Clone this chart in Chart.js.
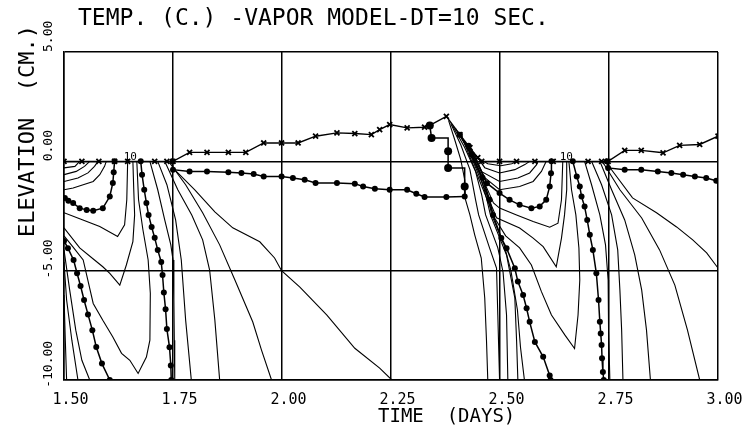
<!DOCTYPE html>
<html>
<head>
<meta charset="utf-8">
<title>TEMP. (C.) -VAPOR MODEL-DT=10 SEC.</title>
<script src="https://cdn.jsdelivr.net/npm/chart.js@4.4.1/dist/chart.umd.min.js"></script>
<style>
  html, body { margin: 0; padding: 0; background: #fff; }
  #wrap { position: relative; width: 755px; height: 430px; }
</style>
</head>
<body>
<div id="wrap"><canvas id="chart"></canvas></div>
<script>
// ---- texts ----
const titleText = "TEMP. (C.) -VAPOR MODEL-DT=10 SEC.";
const xTitle = "TIME  (DAYS)";
const yTitle = "ELEVATION  (CM.)";
const xTickValues = [1.50, 1.75, 2.00, 2.25, 2.50, 2.75, 3.00];
const xTickLabels = ["1.50", "1.75", "2.00", "2.25", "2.50", "2.75", "3.00"];
const yTickValues = [5, 0, -5, -10];
const yTickLabels = ["5.00", "0.00", "-5.00", "-10.00"];
const contourLabelTimes = [1.652, 2.652];
const contourLabelText = "10";

// ---- series: [time (days), elevation (cm)] ----
// snow surface (x markers)
const surfaceLine = [
  [1.500,0],[1.541,0],[1.580,0],[1.616,0],[1.646,0],[1.708,0],[1.736,0],[1.750,0],
  [1.788,0.41],[1.828,0.41],[1.877,0.41],[1.917,0.41],[1.958,0.84],[1.999,0.84],[2.037,0.84],
  [2.077,1.15],[2.126,1.30],[2.167,1.27],[2.205,1.22],[2.224,1.45],[2.247,1.68],[2.287,1.53],
  [2.327,1.56],[2.339,1.64],[2.377,2.06],[2.408,1.22],[2.431,0.63],[2.449,0.17],[2.458,0],
  [2.499,0],[2.538,0],[2.580,0],[2.622,0],[2.702,0],[2.733,0],[2.748,0],
  [2.786,0.50],[2.824,0.50],[2.874,0.39],[2.912,0.73],[2.958,0.77],[3.000,1.15]
];
// lower dotted line under the new snow
const meltLine = [
  [1.749,0],[1.750,-0.38],[1.788,-0.46],[1.828,-0.46],[1.877,-0.50],[1.907,-0.53],[1.935,-0.58],
  [1.958,-0.69],[1.999,-0.69],[2.025,-0.76],[2.052,-0.84],[2.077,-0.99],[2.126,-0.99],[2.167,-1.02],
  [2.186,-1.15],[2.213,-1.25],[2.247,-1.30],[2.287,-1.30],[2.308,-1.48],[2.327,-1.63],[2.377,-1.63],
  [2.419,-1.61]
];
const meltLineLate = [
  [2.745,0],[2.748,-0.30],[2.786,-0.38],[2.824,-0.38],[2.862,-0.46],[2.893,-0.53],[2.920,-0.61],
  [2.947,-0.69],[2.973,-0.76],[2.996,-0.89]
];
const stepLine = [
  [2.339,1.64],[2.343,1.07],[2.381,1.07],[2.381,0.46],[2.381,-0.30],[2.419,-0.30],[2.419,-1.15],[2.419,-1.61]
];
const stepDots = [4, 4, 0, 4, 4, 0, 4, 0];

// first day: closed contours under the surface
const dayOneU1 = [[1.500,-0.30],[1.525,-0.23],[1.536,0]];
const dayOneU2 = [[1.500,-0.61],[1.528,-0.46],[1.547,-0.23],[1.559,0]];
const dayOneU3 = [[1.500,-0.92],[1.532,-0.76],[1.555,-0.53],[1.570,-0.23],[1.578,0]];
const dayOneU4 = [[1.500,-1.30],[1.521,-1.22],[1.544,-1.07],[1.567,-0.92],[1.582,-0.61],[1.593,-0.23],[1.597,0]];
const dayOneUDot = [[1.502,-1.68],[1.510,-1.80],[1.521,-1.91],[1.536,-2.14],[1.552,-2.22],[1.567,-2.26],
  [1.589,-2.14],[1.605,-1.61],[1.612,-0.99],[1.614,-0.50],[1.616,0]];
const dayOneU6 = [[1.500,-2.35],[1.536,-2.63],[1.582,-2.98],[1.623,-3.44],[1.639,-2.90],[1.644,-1.76],[1.646,0]];
const dayOneSmallV = [[1.500,-3.04],[1.536,-3.96],[1.570,-4.51],[1.589,-4.82],[1.605,-5.12],[1.628,-5.66],
  [1.643,-4.74],[1.658,-3.67],[1.662,-2.45],[1.660,-1.30],[1.658,0]];
const dayOneBigV = [[1.500,-3.41],[1.520,-3.90],[1.544,-4.51],[1.567,-6.50],[1.589,-7.27],[1.612,-8.03],
  [1.632,-8.78],[1.651,-9.10],[1.670,-9.70],[1.689,-8.95],[1.697,-8.18],[1.698,-6.03],[1.693,-4.51],
  [1.681,-3.13],[1.671,-1.76],[1.667,0]];
const dayOneEdgeDot = [[1.500,-3.64],[1.509,-3.97],[1.522,-4.51],[1.530,-5.12],[1.538,-5.70],[1.546,-6.34],
  [1.555,-7.00],[1.565,-7.72],[1.574,-8.49],[1.587,-9.25],[1.605,-10]];
const dayOneEdge1 = [[1.500,-4.05],[1.513,-5.88],[1.527,-7.72],[1.541,-9.10],[1.559,-10]];
const dayOneEdge2 = [[1.500,-4.60],[1.506,-6.34],[1.518,-8.18],[1.532,-10]];
const dayOneEdge3 = [[1.500,-6.11],[1.503,-8.18],[1.506,-10]];
// first day: descending contours
const dayOneFallDot = [[1.676,0],[1.679,-0.61],[1.684,-1.30],[1.689,-1.90],[1.694,-2.45],[1.701,-3.00],
  [1.708,-3.50],[1.715,-4.05],[1.723,-4.60],[1.726,-5.20],[1.729,-6.00],[1.733,-6.77],[1.736,-7.67],
  [1.742,-8.50],[1.745,-9.34],[1.746,-10]];
const dayOneFall1 = [[1.697,0],[1.715,-1.30],[1.731,-2.68],[1.745,-3.82],[1.750,-4.51],[1.752,-6.34],[1.753,-8.18],[1.754,-10]];
const dayOneFall2 = [[1.715,0],[1.736,-1.07],[1.756,-2.68],[1.769,-4.51],[1.779,-7.26],[1.792,-10]];
const dayOneFall3 = [[1.731,0],[1.761,-1.30],[1.793,-2.45],[1.818,-3.59],[1.834,-4.97],[1.846,-7.26],[1.857,-10]];
const dayOneFall4 = [[1.742,-0.06],[1.779,-1.07],[1.818,-2.35],[1.857,-3.82],[1.892,-5.43],[1.933,-7.35],[1.953,-8.63],[1.976,-10]];
const dayOneFall5 = [[1.749,-0.29],[1.800,-1.30],[1.846,-2.31],[1.887,-3.04],[1.949,-3.68],[1.983,-4.42],
  [1.999,-5.00],[2.041,-5.75],[2.103,-7.03],[2.167,-8.55],[2.224,-9.46],[2.252,-10]];

// steep bundle after the peak
const bundle1 = [[2.382,1.87],[2.396,1.00],[2.410,0.08],[2.419,-0.84],[2.421,-1.76],[2.431,-2.45],
  [2.442,-3.36],[2.457,-4.42],[2.465,-6.25],[2.469,-8.18],[2.472,-10]];
const bundle2 = [[2.387,1.73],[2.410,0.76],[2.431,-0.38],[2.444,-1.76],[2.451,-2.45],[2.476,-3.96],
  [2.492,-4.88],[2.495,-7.03],[2.499,-10]];
const bundle3 = [[2.391,1.64],[2.419,0.63],[2.444,-0.47],[2.458,-1.53],[2.467,-2.45],[2.495,-3.96],
  [2.507,-5.06],[2.515,-7.03],[2.518,-10]];
const bundle4 = [[2.398,1.50],[2.430,0.44],[2.455,-0.66],[2.469,-1.67],[2.478,-2.45],[2.515,-4.28],
  [2.534,-6.25],[2.538,-8.18],[2.541,-10]];
const bundle5 = [[2.403,1.36],[2.433,0.38],[2.458,-0.70],[2.473,-1.72],[2.481,-2.45],[2.509,-3.80],
  [2.525,-5.00],[2.540,-6.80],[2.547,-8.50],[2.556,-10]];
const bundleDot = [[2.408,1.22],[2.435,0.31],[2.460,-0.75],[2.476,-1.76],[2.484,-2.45],[2.503,-3.51],
  [2.515,-3.97],[2.534,-4.89],[2.541,-5.50],[2.553,-6.11],[2.561,-6.72],[2.568,-7.34],[2.580,-8.26],
  [2.599,-8.94],[2.614,-9.79],[2.616,-10]];

// second day: closed contours under the surface
const dayTwoU1 = [[2.451,0.13],[2.472,-0.11],[2.502,-0.20],[2.527,-0.11],[2.538,0]];
const dayTwoU2 = [[2.445,0.27],[2.465,-0.29],[2.499,-0.53],[2.534,-0.38],[2.557,-0.15],[2.568,0]];
const dayTwoU3 = [[2.440,0.40],[2.458,-0.47],[2.499,-0.92],[2.541,-0.76],[2.568,-0.53],[2.584,-0.15],[2.587,0]];
const dayTwoU4 = [[2.434,0.55],[2.465,-0.75],[2.499,-1.30],[2.545,-1.15],[2.576,-0.92],[2.595,-0.46],[2.606,0]];
const dayTwoUDot = [[2.428,0.71],[2.470,-1.00],[2.499,-1.45],[2.522,-1.76],[2.545,-1.99],[2.572,-2.14],
  [2.591,-2.06],[2.606,-1.76],[2.614,-1.15],[2.617,-0.55],[2.618,0]];
const dayTwoU6 = [[2.423,0.84],[2.476,-1.50],[2.485,-1.90],[2.499,-2.14],[2.538,-2.45],[2.576,-2.75],
  [2.614,-3.01],[2.633,-2.83],[2.641,-1.76],[2.644,0]];
const dayTwoSmallV = [[2.418,0.97],[2.482,-2.10],[2.492,-2.58],[2.545,-3.05],[2.576,-3.51],[2.599,-3.90],
  [2.629,-4.82],[2.641,-3.51],[2.648,-2.45],[2.653,-1.30],[2.653,0]];
const dayTwoBigV = [[2.413,1.09],[2.488,-2.60],[2.513,-3.41],[2.545,-3.96],[2.572,-4.74],[2.595,-5.96],
  [2.618,-7.03],[2.649,-7.95],[2.671,-8.56],[2.679,-7.03],[2.683,-5.43],[2.681,-3.96],[2.674,-2.45],
  [2.664,-1.30],[2.658,0]];
// second day: descending contours
const dayTwoFallDot = [[2.667,0],[2.676,-0.69],[2.683,-1.15],[2.687,-1.61],[2.694,-2.07],[2.700,-2.68],
  [2.706,-3.36],[2.713,-4.05],[2.721,-5.12],[2.726,-6.34],[2.729,-7.34],[2.731,-7.87],[2.733,-8.40],
  [2.734,-9.01],[2.736,-9.63],[2.738,-10]];
const dayTwoFall1 = [[2.694,0],[2.710,-1.07],[2.729,-2.45],[2.742,-3.82],[2.748,-5.43],[2.749,-7.72],[2.752,-10]];
const dayTwoFall2 = [[2.710,0],[2.733,-1.07],[2.756,-2.45],[2.770,-4.05],[2.775,-5.89],[2.779,-7.72],[2.782,-10]];
const dayTwoFall3 = [[2.729,0],[2.756,-1.30],[2.786,-2.68],[2.809,-4.28],[2.825,-5.89],[2.836,-7.72],[2.845,-10]];
const dayTwoFall4 = [[2.738,-0.11],[2.775,-1.30],[2.825,-2.59],[2.866,-4.05],[2.901,-5.66],[2.930,-7.72],[2.958,-10]];
const dayTwoFall5 = [[2.749,-0.20],[2.804,-1.67],[2.859,-2.35],[2.905,-3.00],[2.942,-3.59],[2.974,-4.19],[3.000,-4.88]];

// ---- dataset helpers ----
function toXY(points) {
  return points.map(p => ({ x: p[0], y: p[1] }));
}
function thinLine(points) {
  return {
    data: toXY(points),
    borderColor: "#000",
    borderWidth: 1.1,
    pointRadius: 0,
    fill: false,
    tension: 0
  };
}
function dotLine(points, radius) {
  return {
    data: toXY(points),
    borderColor: "#000",
    borderWidth: 1.5,
    pointRadius: radius || 3,
    pointBackgroundColor: "#000",
    pointBorderWidth: 0,
    fill: false,
    tension: 0
  };
}

const thinSets = [
  dayOneU1, dayOneU2, dayOneU3, dayOneU4, dayOneU6, dayOneSmallV, dayOneBigV,
  dayOneEdge1, dayOneEdge2, dayOneEdge3,
  dayOneFall1, dayOneFall2, dayOneFall3, dayOneFall4, dayOneFall5,
  bundle1, bundle2, bundle3, bundle4, bundle5,
  dayTwoU1, dayTwoU2, dayTwoU3, dayTwoU4, dayTwoU6, dayTwoSmallV, dayTwoBigV,
  dayTwoFall1, dayTwoFall2, dayTwoFall3, dayTwoFall4, dayTwoFall5
];
const dottedSets = [dayOneUDot, dayOneEdgeDot, dayOneFallDot, bundleDot, dayTwoUDot, dayTwoFallDot, meltLine, meltLineLate];

const datasets = [];
thinSets.forEach(s => datasets.push(thinLine(s)));
dottedSets.forEach(s => datasets.push(dotLine(s, 3)));
const stepSet = dotLine(stepLine, 3);
stepSet.pointRadius = stepDots;
datasets.push(stepSet);
datasets.push({
  data: toXY(surfaceLine),
  borderColor: "#000",
  borderWidth: 1.4,
  pointStyle: "crossRot",
  pointRadius: 3.5,
  pointBorderWidth: 1.8,
  pointBorderColor: "#000",
  fill: false,
  tension: 0
});

// ---- text drawn in the plotter style ----
const plotterText = {
  id: "plotterText",
  afterDraw(chart) {
    const { ctx, scales: { x, y } } = chart;
    ctx.save();
    ctx.fillStyle = "#000";
    ctx.textAlign = "left";
    ctx.textBaseline = "alphabetic";

    ctx.font = '23px "DejaVu Sans Mono"';
    ctx.fillText(titleText, 78, 25);

    ctx.font = '15px "DejaVu Sans Mono"';
    xTickValues.forEach((v, i) => {
      ctx.fillText(xTickLabels[i], x.getPixelForValue(v) - 11.5, 403.5);
    });

    ctx.font = '19px "DejaVu Sans Mono"';
    ctx.fillText(xTitle, 378, 421.5);

    ctx.font = '13px "DejaVu Sans Mono"';
    yTickValues.forEach((v, i) => {
      const lab = yTickLabels[i];
      const lead = lab.startsWith("-") ? ctx.measureText("-").width : 0;
      ctx.save();
      ctx.translate(49, y.getPixelForValue(v) + lead);
      ctx.rotate(-Math.PI / 2);
      ctx.textBaseline = "middle";
      ctx.fillText(lab, 0, 0);
      ctx.restore();
    });

    ctx.font = '22px "DejaVu Sans Mono"';
    ctx.save();
    ctx.translate(28, 237);
    ctx.rotate(-Math.PI / 2);
    ctx.textBaseline = "middle";
    ctx.fillText(yTitle, 0, 0);
    ctx.restore();

    ctx.font = '11px "DejaVu Sans Mono"';
    ctx.textAlign = "center";
    contourLabelTimes.forEach(t => {
      ctx.fillText(contourLabelText, x.getPixelForValue(t), y.getPixelForValue(0) - 1);
    });
    ctx.restore();
  }
};

const axisStyle = {
  grid: { color: "#000", lineWidth: 1.5, drawTicks: false },
  border: { color: "#000", width: 1.5 }
};

new Chart(document.getElementById("chart").getContext("2d"), {
  type: "line",
  data: { datasets },
  options: {
    responsive: true,
    maintainAspectRatio: false,
    animation: false,
    layout: { padding: { left: 64, right: 37, top: 52, bottom: 50 } },
    plugins: {
      legend: { display: false },
      tooltip: { enabled: false },
      title: { display: false }
    },
    scales: {
      x: Object.assign({ type: "linear", min: 1.5, max: 3.0, ticks: { display: false, stepSize: 0.25 } }, axisStyle),
      y: Object.assign({ type: "linear", min: -10, max: 5, ticks: { display: false, stepSize: 5 } }, axisStyle)
    }
  },
  plugins: [plotterText]
});
</script>
</body>
</html>
